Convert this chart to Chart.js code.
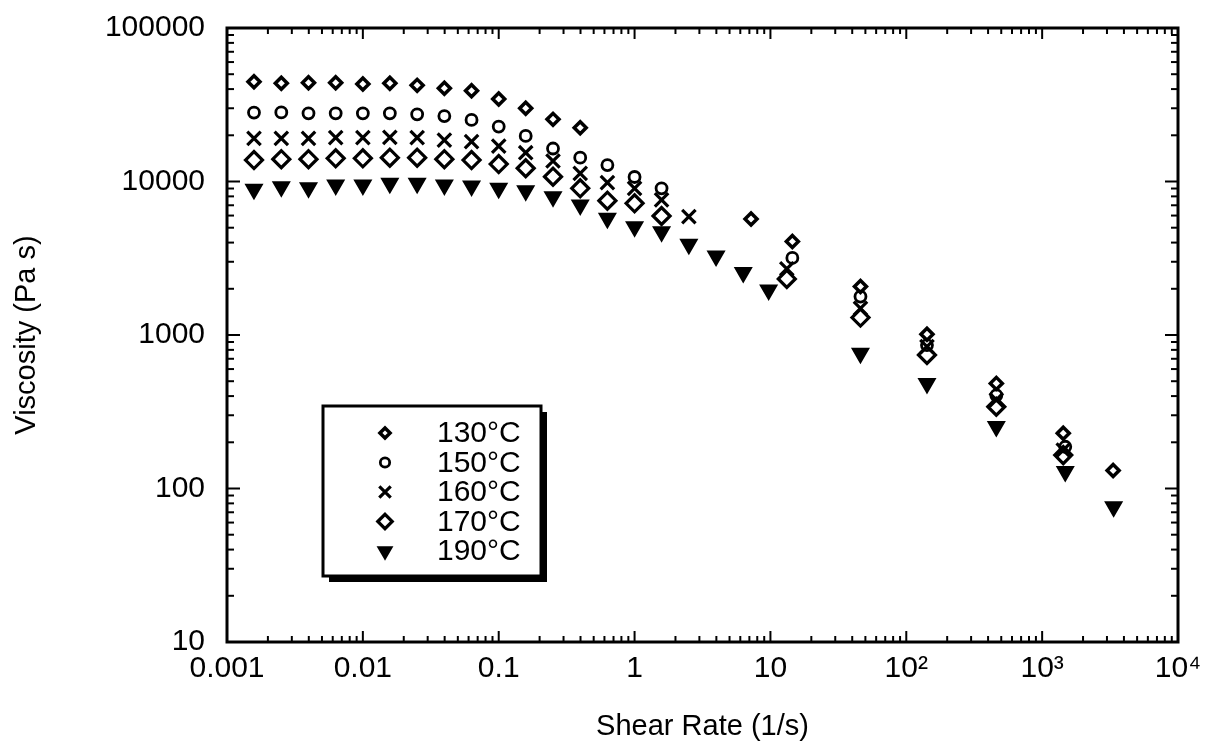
<!DOCTYPE html>
<html>
<head>
<meta charset="utf-8">
<title>Viscosity vs Shear Rate</title>
<script src="https://cdn.jsdelivr.net/npm/chart.js@4.4.1/dist/chart.umd.min.js"></script>
<style>
    html, body { margin: 0; padding: 0; background: #fff; }
    #wrap { width: 1211px; height: 750px; }
</style>
</head>
<body>
<div id="wrap"><canvas id="viscChart" width="1211" height="750"></canvas></div>
<script>
// ─── DATOS ────────────────────────────────────────────────────
const seriesLabels = ['130°C', '150°C', '160°C', '170°C', '190°C'];

const rate130 = [0.00158, 0.00251, 0.00398, 0.00631, 0.01, 0.0158, 0.0251, 0.0398, 0.0631, 0.1, 0.158, 0.251, 0.398,
                 7.2, 14.5, 46, 142, 460, 1430, 3330];
const visc130 = [44700, 43600, 44000, 44000, 43200, 43600, 42300, 40500, 39000, 34500, 30000, 25400, 22400,
                 5700, 4060, 2070, 1010, 484, 229, 131];

const rate150 = [0.00158, 0.00251, 0.00398, 0.00631, 0.01, 0.0158, 0.0251, 0.0398, 0.0631, 0.1, 0.158, 0.251, 0.398, 0.631, 1, 1.58,
                 14.5, 46, 142, 460, 1480];
const visc150 = [28100, 28200, 27800, 27800, 27800, 27800, 27400, 26700, 25200, 22800, 19800, 16400, 14300, 12800, 10700, 9030,
                 3180, 1780, 860, 405, 187];

const rate160 = [0.00158, 0.00251, 0.00398, 0.00631, 0.01, 0.0158, 0.0251, 0.0398, 0.0631, 0.1, 0.158, 0.251, 0.398, 0.631, 1, 1.58, 2.51,
                 13.2, 46, 142, 460, 1430];
const visc160 = [19100, 19100, 19100, 19300, 19300, 19400, 19300, 18600, 18200, 17000, 15400, 13600, 11300, 9820, 9030, 7590, 5900,
                 2700, 1490, 840, 378, 178];

const rate170 = [0.00158, 0.00251, 0.00398, 0.00631, 0.01, 0.0158, 0.0251, 0.0398, 0.0631, 0.1, 0.158, 0.251, 0.398, 0.631, 1, 1.58,
                 13.2, 46, 142, 460, 1430];
const visc170 = [13800, 13970, 13970, 14170, 14170, 14300, 14300, 13970, 13800, 13000, 12200, 10750, 9030, 7500, 7210, 5960,
                 2320, 1300, 741, 341, 165];

const rate190 = [0.00158, 0.00251, 0.00398, 0.00631, 0.01, 0.0158, 0.0251, 0.0398, 0.0631, 0.1, 0.158, 0.251, 0.398, 0.631, 1, 1.58, 2.51, 3.98, 6.31, 9.7,
                 46, 142, 460, 1480, 3360];
const visc190 = [8890, 9250, 9110, 9490, 9490, 9730, 9730, 9490, 9350, 9030, 8720, 7960, 7030, 5760, 5080, 4710, 3900, 3270, 2550, 1965,
                 760, 484, 253, 129, 76];

const xTickVals = [0.001, 0.01, 0.1, 1, 10, 100, 1000, 10000];
const xTickLabels = ['0.001', '0.01', '0.1', '1', '10', '10²', '10³', '10⁴'];
const yTickVals = [10, 100, 1000, 10000, 100000];
const yTickLabels = ['10', '100', '1000', '10000', '100000'];

// ─── ESTILOS DE MARCADOR ──────────────────────────────────────
const markerStyles = [
    { pointStyle: 'rectRot',  radius: 6,   borderWidth: 3.5, rotation: 0,   fill: 'rgba(0,0,0,0)' },
    { pointStyle: 'circle',   radius: 5.5, borderWidth: 2.8, rotation: 0,   fill: 'rgba(0,0,0,0)' },
    { pointStyle: 'crossRot', radius: 9.5, borderWidth: 3.2, rotation: 0,   fill: 'rgba(0,0,0,0)' },
    { pointStyle: 'rectRot',  radius: 8.5, borderWidth: 3.2, rotation: 0,   fill: 'rgba(0,0,0,0)' },
    { pointStyle: 'triangle', radius: 8.5, borderWidth: 2.5, rotation: 180, fill: '#000' }
];

const FONT = '"Liberation Sans", Arial, Helvetica, sans-serif';

function toPoints(xs, ys) {
    return xs.map((x, i) => ({ x: x, y: ys[i] }));
}

const seriesData = [
    toPoints(rate130, visc130),
    toPoints(rate150, visc150),
    toPoints(rate160, visc160),
    toPoints(rate170, visc170),
    toPoints(rate190, visc190)
];

// ─── PLUGIN: marco + ticks hacia adentro ──────────────────────
const frameTicks = {
    id: 'frameTicks',
    afterDatasetsDraw(chart) {
        const { ctx, chartArea: a, scales: { x, y } } = chart;
        ctx.save();
        ctx.strokeStyle = '#000';
        ctx.lineWidth = 2;
        const seg = (x1, y1, x2, y2) => { ctx.beginPath(); ctx.moveTo(x1, y1); ctx.lineTo(x2, y2); ctx.stroke(); };

        for (let e = -3; e <= 4; e++) {
            for (let m = 1; m <= 9; m++) {
                if (e === 4 && m > 1) break;
                const px = x.getPixelForValue(m * Math.pow(10, e));
                const len = m === 1 ? 11 : 6;
                seg(px, a.bottom, px, a.bottom - len);
                seg(px, a.top, px, a.top + len);
            }
        }
        for (let e = 1; e <= 5; e++) {
            for (let m = 1; m <= 9; m++) {
                if (e === 5 && m > 1) break;
                const py = y.getPixelForValue(m * Math.pow(10, e));
                const len = m === 1 ? 13 : 7;
                seg(a.left, py, a.left + len, py);
                seg(a.right, py, a.right - len, py);
            }
        }
        ctx.lineWidth = 3;
        ctx.strokeRect(a.left, a.top, a.right - a.left, a.bottom - a.top);
        ctx.restore();
    }
};

// ─── PLUGIN: leyenda con sombra ───────────────────────────────
const boxLegend = {
    id: 'boxLegend',
    afterDraw(chart) {
        const ctx = chart.ctx;
        const bx = 323, by = 406, bw = 218, bh = 170;
        ctx.save();
        ctx.fillStyle = '#000';
        ctx.fillRect(bx + 6, by + 6, bw, bh);
        ctx.fillStyle = '#fff';
        ctx.fillRect(bx, by, bw, bh);
        ctx.strokeStyle = '#000';
        ctx.lineWidth = 3;
        ctx.strokeRect(bx, by, bw, bh);

        ctx.font = '30px ' + FONT;
        ctx.textBaseline = 'middle';
        ctx.textAlign = 'left';
        seriesLabels.forEach((lbl, i) => {
            const ry = 433 + i * 29.5;
            const st = markerStyles[i];
            ctx.fillStyle = st.fill;
            ctx.strokeStyle = '#000';
            ctx.lineWidth = st.borderWidth;
            if (Chart.helpers && Chart.helpers.drawPoint) {
                Chart.helpers.drawPoint(ctx, {
                    pointStyle: st.pointStyle,
                    radius: st.radius * 0.85,
                    rotation: st.rotation,
                    borderWidth: st.borderWidth
                }, 385, ry);
            }
            ctx.fillStyle = '#000';
            ctx.fillText(lbl, 437, ry + 1);
        });
        ctx.restore();
    }
};

// ─── GRÁFICO ──────────────────────────────────────────────────
const ctxV = document.getElementById('viscChart').getContext('2d');

new Chart(ctxV, {
    type: 'scatter',
    data: {
        datasets: seriesData.map((pts, i) => ({
            label: seriesLabels[i],
            data: pts,
            showLine: false,
            pointStyle: markerStyles[i].pointStyle,
            pointRadius: markerStyles[i].radius,
            pointHoverRadius: markerStyles[i].radius,
            pointRotation: markerStyles[i].rotation,
            pointBorderWidth: markerStyles[i].borderWidth,
            borderColor: '#000',
            backgroundColor: markerStyles[i].fill
        }))
    },
    options: {
        responsive: false,
        animation: false,
        devicePixelRatio: 1,
        layout: { padding: { top: 28, right: 33, left: 0, bottom: 0 } },
        plugins: {
            legend: { display: false },
            tooltip: { enabled: false }
        },
        scales: {
            x: {
                type: 'logarithmic',
                min: 0.001,
                max: 10000,
                afterBuildTicks: s => { s.ticks = xTickVals.map(v => ({ value: v })); },
                afterFit: s => { s.height = 108; s.paddingLeft = 0; s.paddingRight = 0; },
                grid: { display: false, drawTicks: false },
                border: { display: false },
                ticks: {
                    autoSkip: false,
                    maxRotation: 0,
                    padding: 9,
                    color: '#000',
                    font: { family: FONT, size: 30 },
                    callback: (v, i) => xTickLabels[i]
                },
                title: {
                    display: true,
                    text: 'Shear Rate (1/s)',
                    color: '#000',
                    font: { family: FONT, size: 29 },
                    padding: { top: 0, bottom: 6 }
                }
            },
            y: {
                type: 'logarithmic',
                min: 10,
                max: 100000,
                afterBuildTicks: s => { s.ticks = yTickVals.map(v => ({ value: v })); },
                afterFit: s => { s.width = 227; s.paddingTop = 0; s.paddingBottom = 0; },
                grid: { display: false, drawTicks: false },
                border: { display: false },
                ticks: {
                    autoSkip: false,
                    padding: 22,
                    color: '#000',
                    font: { family: FONT, size: 30 },
                    callback: (v, i) => yTickLabels[i]
                },
                title: {
                    display: true,
                    text: 'Viscosity (Pa s)',
                    color: '#000',
                    font: { family: FONT, size: 29 },
                    padding: { top: 10, bottom: 0 }
                }
            }
        }
    },
    plugins: [frameTicks, boxLegend]
});
</script>
</body>
</html>
